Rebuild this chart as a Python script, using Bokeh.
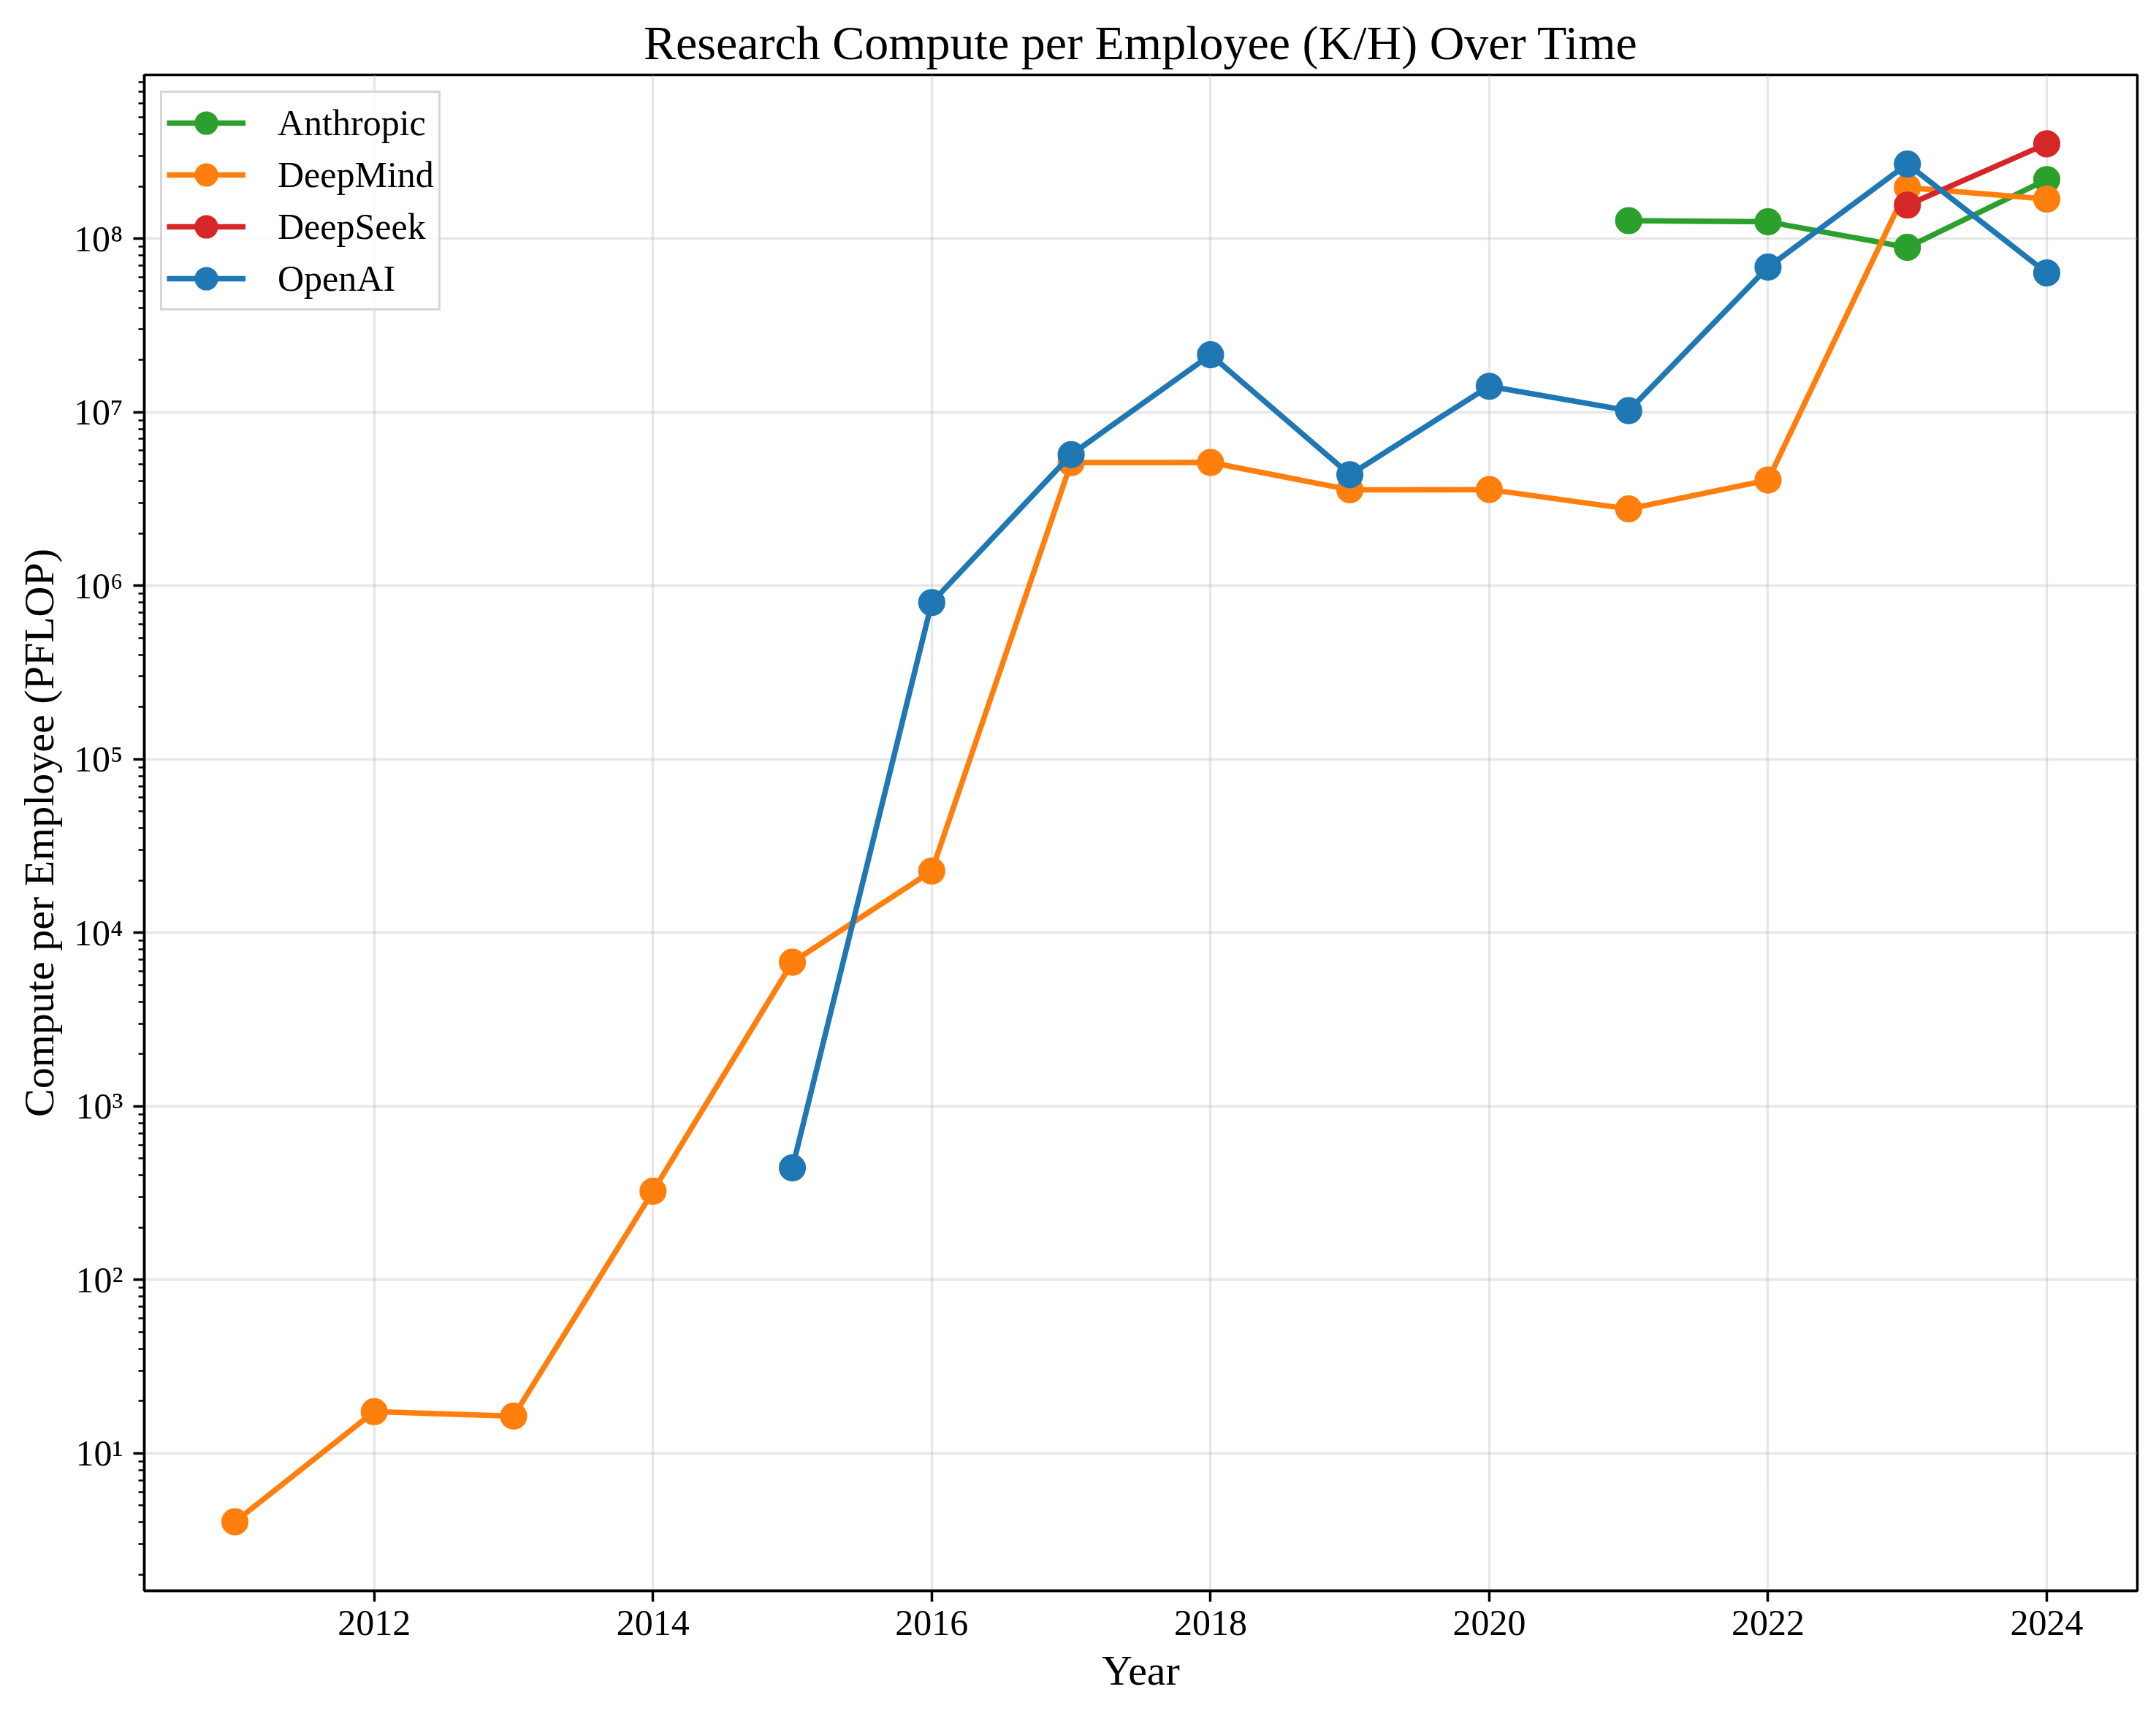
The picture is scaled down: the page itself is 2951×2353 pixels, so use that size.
import math
from bokeh.plotting import figure
from bokeh.models import Range1d, FixedTicker, CustomJSTickFormatter
from bokeh.embed import file_html
from bokeh.resources import INLINE

# ---- data ----
companies = ["Anthropic", "DeepMind", "DeepSeek", "OpenAI"]
colors = ["#2ca02c", "#ff7f0e", "#d62728", "#1f77b4"]

anthropic_years = [2021, 2022, 2023, 2024]
anthropic_vals = [1.27e8, 1.25e8, 8.9e7, 2.19e8]

deepmind_years = [2011, 2012, 2013, 2014, 2015, 2016, 2017, 2018, 2019, 2020, 2021, 2022, 2023, 2024]
deepmind_vals = [4.03, 17.4, 16.4, 324, 6770, 22700, 5.12e6, 5.13e6, 3.57e6, 3.58e6, 2.77e6, 4.06e6, 1.97e8, 1.69e8]

deepseek_years = [2023, 2024]
deepseek_vals = [1.56e8, 3.52e8]

openai_years = [2015, 2016, 2017, 2018, 2019, 2020, 2021, 2022, 2023, 2024]
openai_vals = [442, 8.0e5, 5.69e6, 2.14e7, 4.36e6, 1.41e7, 1.02e7, 6.85e7, 2.69e8, 6.34e7]

x_ticks = [2012, 2014, 2016, 2018, 2020, 2022, 2024]

series = [
    (anthropic_years, anthropic_vals),
    (deepmind_years, deepmind_vals),
    (deepseek_years, deepseek_vals),
    (openai_years, openai_vals),
]

# ---- ranges like matplotlib autoscale (5% margins) ----
all_years = [y for ys, _ in series for y in ys]
all_vals = [v for _, vs in series for v in vs]
xmin, xmax = min(all_years), max(all_years)
xm = (xmax - xmin) * 0.05
lmin, lmax = math.log10(min(all_vals)), math.log10(max(all_vals))
lm = (lmax - lmin) * 0.05

FONT = "Liberation Serif"

p = figure(
    width=2935, height=2337,
    y_axis_type="log",
    x_range=Range1d(xmin - xm, xmax + xm),
    y_range=Range1d(10 ** (lmin - lm), 10 ** (lmax + lm)),
    output_backend="svg", toolbar_location=None,
    title="Research Compute per Employee (K/H) Over Time",
    min_border_left=197, min_border_right=10, min_border_top=102, min_border_bottom=160,
)
p.background_fill_color = "white"
p.border_fill_color = "white"
p.outline_line_color = "black"
p.outline_line_width = 3.5

p.title.text_font = FONT
p.title.text_font_size = "66px"
p.title.text_font_style = "normal"
p.title.text_color = "black"
p.title.align = "center"
p.title.standoff = 15

# ticks
p.xaxis.ticker = FixedTicker(ticks=x_ticks, minor_ticks=[])
major_y = [10.0 ** k for k in range(0, 10)]
minor_y = [m * 10.0 ** k for k in range(-1, 10) for m in range(2, 10)]
p.yaxis.ticker = FixedTicker(ticks=major_y, minor_ticks=minor_y)
p.yaxis.formatter = CustomJSTickFormatter(code="""
const sup = {"-":"\u207b","0":"\u2070","1":"\u00b9","2":"\u00b2","3":"\u00b3","4":"\u2074","5":"\u2075","6":"\u2076","7":"\u2077","8":"\u2078","9":"\u2079"};
const e = Math.round(Math.log10(tick));
return "10" + String(e).split("").map(c => sup[c]).join("");
""")

for ax in (p.xaxis, p.yaxis):
    ax.axis_line_width = 3.5
    ax.axis_line_color = "black"
    ax.major_tick_line_width = 3.5
    ax.minor_tick_line_width = 2.5
    ax.major_tick_out = 15
    ax.major_tick_in = 0
    ax.minor_tick_out = 8
    ax.minor_tick_in = 0
    ax.major_label_text_font = FONT
    ax.major_label_text_font_size = "50px"
    ax.major_label_text_color = "black"
    ax.axis_label_text_font = FONT
    ax.axis_label_text_font_size = "58px"
    ax.axis_label_text_font_style = "normal"
    ax.axis_label_text_color = "black"

p.xaxis.axis_label = "Year"
p.yaxis.axis_label = "Compute per Employee (PFLOP)"
p.xaxis.major_label_standoff = 12
p.xaxis.axis_label_standoff = 13
p.yaxis.major_label_standoff = 14
p.yaxis.axis_label_standoff = 12

# grid
for g in (p.xgrid, p.ygrid):
    g.grid_line_color = "#b0b0b0"
    g.grid_line_alpha = 0.3
    g.grid_line_width = 3.3

# series
for name, color, (ys, vs) in zip(companies, colors, series):
    p.line(ys, vs, line_color=color, line_width=7.5, legend_label=name)
    p.scatter(ys, vs, marker="circle", size=33, fill_color=color, line_color=color,
              line_width=4.2, legend_label=name)

lg = p.legend[0]
lg.location = "top_left"
lg.margin = 22
lg.padding = 6
lg.spacing = 1
lg.glyph_width = 108
lg.glyph_height = 70
lg.label_height = 50
lg.label_standoff = 44
lg.label_text_font = FONT
lg.label_text_font_size = "50px"
lg.label_text_color = "black"
lg.border_line_color = "#cccccc"
lg.border_line_alpha = 0.8
lg.border_line_width = 3.3
lg.background_fill_color = "white"
lg.background_fill_alpha = 0.8

open("out.html", "w", encoding="utf-8").write(file_html(p, INLINE))
